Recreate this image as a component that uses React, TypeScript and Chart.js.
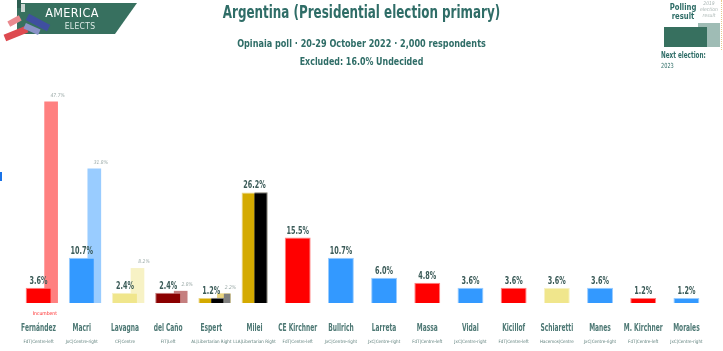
import React, { useEffect, useRef } from "react";
import { Chart, registerables } from "chart.js";

Chart.register(...registerables);

const candidates = ["Fernández", "Macri", "Lavagna", "del Caño", "Espert", "Milei", "CE Kirchner", "Bullrich", "Larreta", "Massa", "Vidal", "Kicillof", "Schiaretti", "Manes", "M. Kirchner", "Morales"];
const parties = ["FdT|Centre-left", "JxC|Centre-right", "CF|Centre", "FIT|Left", "AL|Libertarian Right", "LLA|Libertarian Right", "FdT|Centre-left", "JxC|Centre-right", "JxC|Centre-right", "FdT|Centre-left", "JxC|Centre-right", "FdT|Centre-left", "Hacemos|Centre", "JxC|Centre-right", "FdT|Centre-left", "JxC|Centre-right"];
const pollValues = [3.6, 10.7, 2.4, 2.4, 1.2, 26.2, 15.5, 10.7, 6.0, 4.8, 3.6, 3.6, 3.6, 3.6, 1.2, 1.2];
const prevValues: (number | null)[] = [47.7, 31.8, 8.2, 2.8, 2.2, null, null, null, null, null, null, null, null, null, null, null];
const incumbentTags = ["Incumbent", "", "", "", "", "", "", "", "", "", "", "", "", "", "", ""];

const RED = "#ff0000", BLUE = "#3399ff", KHAKI = "#f0e68c", DARKRED = "#8b0000", GOLD = "#d4aa00", BLACK = "#000000";
const L_RED = "#ff8080", L_BLUE = "#99ccff", L_KHAKI = "#f7f2c5", L_DARKRED = "#c57f7f", L_GOLD = "#e9d47f", L_BLACK = "#808080";

const pollColors = [RED, BLUE, KHAKI, DARKRED, GOLD, GOLD, RED, BLUE, BLUE, RED, BLUE, RED, KHAKI, BLUE, RED, BLUE];
const pollBorders = [L_RED, L_BLUE, L_KHAKI, L_DARKRED, L_GOLD, L_GOLD, L_RED, L_BLUE, L_BLUE, L_RED, L_BLUE, L_RED, L_KHAKI, L_BLUE, L_RED, L_BLUE];
const pollSplit: (string | null)[] = [null, null, null, null, BLACK, BLACK, null, null, null, null, null, null, null, null, null, null];
const prevColors = [L_RED, L_BLUE, L_KHAKI, L_DARKRED, L_GOLD, null, null, null, null, null, null, null, null, null, null, null];
const prevSplit: (string | null)[] = [null, null, null, null, L_BLACK, null, null, null, null, null, null, null, null, null, null, null];

const FONT = "'DejaVu Sans Condensed', 'Liberation Sans Narrow', 'DejaVu Sans', sans-serif";
const TEAL = "#2f6d67";
const PREV_SHIFT = 0.29;

const prevPoints = prevValues.flatMap((v, i) => (v == null ? [] : [{ x: i, y: v }]));

function narrowText(ctx: CanvasRenderingContext2D, text: string, x: number, y: number, sx: number) {
  ctx.save();
  ctx.translate(x, y);
  ctx.scale(sx, 1);
  ctx.fillText(text, 0, 0);
  ctx.restore();
}

const overlayPlugin = {
  id: "overlay",
  afterDatasetDraw(chart: any, args: any) {
    const ctx = chart.ctx;
    const di = args.index;
    const meta = args.meta;
    ctx.save();
    meta.data.forEach((el: any, j: number) => {
      const catIndex = di === 0 ? j : (chart.data.datasets[1].data[j] as any).x;
      const split = di === 0 ? pollSplit[catIndex] : prevSplit[catIndex];
      if (!split) return;
      const { x, y, base, width } = el.getProps(["x", "y", "base", "width"], true);
      const top = Math.min(y, base);
      const h = Math.abs(base - y);
      if (di === 0) {
        ctx.fillStyle = L_BLACK;
        ctx.fillRect(x, top, width / 2, h);
        ctx.fillStyle = split;
        ctx.fillRect(x, top + 1, width / 2 - 1, h - 1);
      } else {
        ctx.fillStyle = split;
        ctx.fillRect(x, top, width / 2, h);
      }
    });
    ctx.restore();
  },
  afterDatasetsDraw(chart: any) {
    const ctx = chart.ctx;
    ctx.save();
    const m0 = chart.getDatasetMeta(0);
    const m1 = chart.getDatasetMeta(1);
    ctx.textAlign = "center";
    ctx.textBaseline = "alphabetic";
    ctx.fillStyle = "#3b5b58";
    ctx.font = `bold 10px ${FONT}`;
    m0.data.forEach((el: any, j: number) => {
      const { x, y } = el.getProps(["x", "y"], true);
      narrowText(ctx, pollValues[j].toFixed(1) + "%", x, y - 4, 0.72);
    });
    ctx.fillStyle = "#9aa9a7";
    ctx.font = `italic 5px ${FONT}`;
    m1.data.forEach((el: any, j: number) => {
      const { x, y, width } = el.getProps(["x", "y", "width"], true);
      const idx = (chart.data.datasets[1].data[j] as any).x;
      ctx.fillText((prevValues[idx] as number).toFixed(1) + "%", x + width / 2, y - 5);
    });
    // incumbent tag
    ctx.fillStyle = "#ff2020";
    ctx.font = `5px ${FONT}`;
    incumbentTags.forEach((t, i) => {
      if (!t) return;
      const a = m0.data[i];
      const pIdx = (chart.data.datasets[1].data as any[]).findIndex((p) => p.x === i);
      const b = pIdx >= 0 ? m1.data[pIdx] : a;
      const cx = (a.x + b.x) / 2;
      ctx.fillText(t, cx, a.base + 12);
    });
    // candidate names on the category axis
    const xs = chart.scales.x;
    ctx.fillStyle = "#4d7874";
    ctx.font = `bold 10px ${FONT}`;
    ctx.textBaseline = "middle";
    candidates.forEach((name, i) => {
      narrowText(ctx, name, xs.getPixelForValue(i), xs.top + 25.5, 0.66);
    });
    ctx.restore();
  },
};

function App() {
  const ref = useRef<HTMLCanvasElement | null>(null);
  useEffect(() => {
    if (!ref.current) return;
    const n = candidates.length;
    const chart = new Chart(ref.current, {
      type: "bar",
      data: {
        labels: candidates,
        datasets: [
          {
            label: "Polling result",
            data: pollValues,
            backgroundColor: pollColors,
            borderColor: pollBorders,
            borderWidth: 1,
            xAxisID: "x",
            barPercentage: 0.6,
            categoryPercentage: 1,
            grouped: false,
            order: 0,
          },
          {
            label: "2019 election result",
            data: prevPoints as any,
            backgroundColor: prevPoints.map((p) => prevColors[p.x] as string),
            xAxisID: "x2",
            barThickness: 13,
            grouped: false,
            order: 1,
          },
        ],
      },
      options: {
        responsive: false,
        animation: false,
        devicePixelRatio: 1,
        layout: { padding: { top: 92, left: 17, right: 15, bottom: 0 } },
        plugins: { legend: { display: false }, tooltip: { enabled: false }, title: { display: false } },
        scales: {
          x: {
            type: "category",
            offset: true,
            weight: 0,
            grid: { display: false, drawTicks: false },
            border: { display: false },
            afterFit: (s: any) => { s.height = 31; },
            ticks: { display: false },
          },
          xp: {
            type: "category",
            labels: parties,
            offset: true,
            position: "bottom",
            weight: 1,
            grid: { display: false, drawTicks: false },
            border: { display: false },
            afterFit: (s: any) => { s.height = 17; },
            ticks: {
              autoSkip: false,
              maxRotation: 0,
              padding: 5,
              color: "#5e7f7b",
              font: { family: FONT, size: 4.5 },
            },
          },
          x2: {
            type: "linear",
            display: false,
            offset: false,
            min: -0.5 - PREV_SHIFT,
            max: n - 0.5 - PREV_SHIFT,
          },
          y: { display: false, min: 0, max: 50 },
        },
      } as any,
      plugins: [overlayPlugin],
    });
    return () => chart.destroy();
  }, []);

  const abs = (s: React.CSSProperties): React.CSSProperties => ({ position: "absolute", ...s });
  const centered = (top: number, size: number, sx: number, lh: number): React.CSSProperties =>
    abs({ left: 0, top, width: 723, textAlign: "center", color: TEAL, fontSize: size, fontWeight: "bold", lineHeight: lh + "px", transform: `scaleX(${sx})`, transformOrigin: "361.5px 0" });

  return (
    <div style={{ position: "fixed", left: 0, top: 0, width: 723, height: 351, background: "#fff", overflow: "hidden", fontFamily: FONT }}>
      <canvas ref={ref} width={723} height={351} style={abs({ left: 0, top: 0, width: 723, height: 351 })} />
      {/* logo */}
      <div style={abs({ left: 17, top: 3, width: 120, height: 31, background: "#37705f", clipPath: "polygon(0 0, 120px 0, 98px 31px, 0 31px)" })} />
      <div style={abs({ left: 17, top: 0, width: 4, height: 8, background: "#2c5d50" })} />
      <div style={abs({ left: 21, top: 4, width: 4, height: 8, background: "#c9d4d0" })} />
      <div style={abs({ left: 8, top: 18, width: 13, height: 6, background: "#e98a8f", transform: "rotate(-28deg)" })} />
      <div style={abs({ left: 4, top: 30, width: 24, height: 7, background: "#dd4a50", transform: "rotate(-22deg)" })} />
      <div style={abs({ left: 26, top: 19, width: 24, height: 7, background: "#3f4fa0", transform: "rotate(28deg)" })} />
      <div style={abs({ left: 24, top: 26, width: 16, height: 6, background: "#8a93c8", transform: "rotate(24deg)" })} />
      <div style={abs({ left: 40, top: 6, width: 64, textAlign: "center", color: "#fff", fontSize: 12.5, lineHeight: "14px", letterSpacing: 0.3 })}>AMERICA</div>
      <div style={abs({ left: 58, top: 21, width: 44, textAlign: "center", color: "#dfece8", fontSize: 8.5, lineHeight: "10px", letterSpacing: 0.3 })}>ELECTS</div>
      {/* title */}
      <div style={centered(2, 17, 0.78, 20)}>Argentina (Presidential election primary)</div>
      <div style={centered(37, 11, 0.82, 14)}>Opinaia poll · 20-29 October 2022 · 2,000 respondents</div>
      <div style={centered(55, 11, 0.8, 14)}>Excluded: 16.0% Undecided</div>
      {/* legend */}
      <div style={abs({ left: 660, top: 3, width: 46, textAlign: "center", color: TEAL, fontSize: 9, fontWeight: "bold", lineHeight: "9px", transform: "scaleX(0.85)" })}>Polling<br />result</div>
      <div style={abs({ left: 698, top: 0, width: 22, textAlign: "center", color: "#a9b5b3", fontSize: 5, fontStyle: "italic", lineHeight: "6px" })}>2019<br />election<br />result</div>
      <div style={abs({ left: 698, top: 23, width: 22, height: 24, background: "#9fbcb5" })} />
      <div style={abs({ left: 664, top: 27, width: 43, height: 20, background: "#37705f" })} />
      <div style={abs({ left: 721, top: 0, width: 1, height: 50, borderLeft: "1px dotted #e8c98a" })} />
      <div style={abs({ left: 661, top: 50, color: TEAL, fontSize: 9, fontWeight: "bold", lineHeight: "11px", whiteSpace: "nowrap", transform: "scaleX(0.7)", transformOrigin: "0 0" })}>Next election:</div>
      <div style={abs({ left: 661, top: 62, color: TEAL, fontSize: 7, lineHeight: "9px", transform: "scaleX(0.8)", transformOrigin: "0 0" })}>2023</div>
      <div style={abs({ left: 0, top: 172, width: 2, height: 9, background: "#1a73e8" })} />
    </div>
  );
}

export default App;
